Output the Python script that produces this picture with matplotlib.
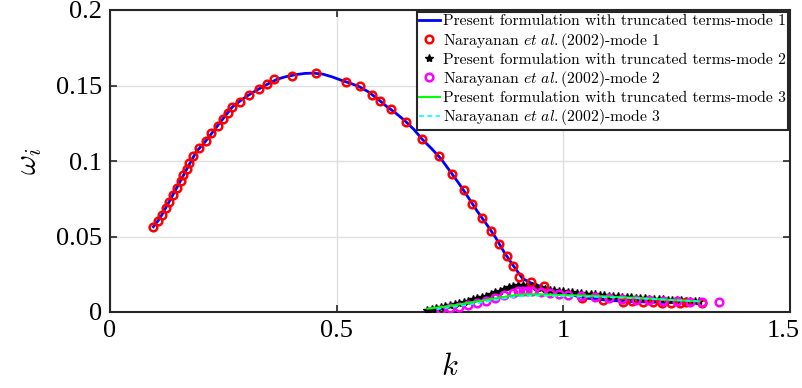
import numpy as np
import matplotlib
matplotlib.use("Agg")
import matplotlib.pyplot as plt
import matplotlib.transforms as mtransforms

plt.rcParams['mathtext.fontset'] = 'cm'
plt.rcParams['axes.formatter.use_mathtext'] = True

# ---- data ----
# mode 1, present formulation (line)
k1_line = [0.0955, 0.11, 0.13, 0.15, 0.17, 0.19, 0.21, 0.23, 0.25, 0.27, 0.29, 0.31, 0.33, 0.35,
           0.37, 0.39, 0.41, 0.43, 0.45, 0.47, 0.49, 0.51, 0.53, 0.55, 0.57, 0.59, 0.61, 0.63,
           0.65, 0.67, 0.69, 0.71, 0.73, 0.75, 0.77, 0.79, 0.81, 0.83, 0.85, 0.87, 0.89, 0.91,
           0.93, 0.95, 0.97, 1.00, 1.05, 1.10, 1.15, 1.20, 1.25, 1.30]
w1_line = [0.0565, 0.0620, 0.0728, 0.0838, 0.0950, 0.1060, 0.1128, 0.1205, 0.1283, 0.1358,
           0.1405, 0.1445, 0.1480, 0.1513, 0.1543, 0.1560, 0.1572, 0.1580, 0.1582, 0.1575,
           0.1557, 0.1535, 0.1515, 0.1492, 0.1458, 0.1412, 0.1362, 0.1318, 0.1268, 0.1210,
           0.1140, 0.1080, 0.1015, 0.0933, 0.0850, 0.0760, 0.0668, 0.0584, 0.0496, 0.0393,
           0.0305, 0.0222, 0.0190, 0.0170, 0.0150, 0.0125, 0.0092, 0.0077, 0.0069, 0.0065,
           0.0062, 0.0060]

# mode 1, Narayanan et al. (circles)
k1_ref = [0.0955, 0.1066, 0.114, 0.1229, 0.1308, 0.1383, 0.1471, 0.1566, 0.1617, 0.1692,
          0.1749, 0.1838, 0.197, 0.2118, 0.2235, 0.2389, 0.2486, 0.2603, 0.2691, 0.2868,
          0.3073, 0.3294, 0.347, 0.3618, 0.4008, 0.4544, 0.520, 0.5515, 0.578, 0.595,
          0.619, 0.653, 0.689, 0.7247, 0.7538, 0.7798, 0.7993, 0.8213, 0.8398, 0.8581,
          0.8751, 0.8897, 0.903, 0.9281, 0.9574, 1.0406, 1.0883, 1.1317, 1.151, 1.176,
          1.198, 1.217, 1.2376, 1.2574, 1.2707, 1.3053]
w1_ref = [0.0565, 0.0603, 0.0642, 0.0687, 0.0730, 0.0775, 0.0823, 0.0870, 0.0907, 0.0945,
          0.0985, 0.1035, 0.1088, 0.1134, 0.1183, 0.1234, 0.1278, 0.1320, 0.1356, 0.1393,
          0.1439, 0.1479, 0.1510, 0.1545, 0.1563, 0.1581, 0.1521, 0.1495, 0.1439, 0.1395,
          0.1344, 0.1258, 0.1144, 0.1036, 0.0916, 0.0811, 0.0715, 0.0624, 0.0538, 0.0450,
          0.0369, 0.0307, 0.0234, 0.0197, 0.0174, 0.0091, 0.0077, 0.0068, 0.0075, 0.0068,
          0.0068, 0.0062, 0.0062, 0.0058, 0.0068, 0.0062]

# mode 2, present formulation (dense markers)
k2_line = [0.70, 0.71, 0.72, 0.73, 0.74, 0.75, 0.76, 0.77, 0.78, 0.79, 0.80, 0.81, 0.82, 0.83,
           0.84, 0.85, 0.86, 0.87, 0.88, 0.89, 0.90, 0.91, 0.92, 0.93, 0.94, 0.95, 0.96, 0.97,
           0.98, 0.99, 1.00, 1.01, 1.02, 1.03, 1.04, 1.05, 1.06, 1.07, 1.08, 1.09, 1.10, 1.11,
           1.12, 1.13, 1.14, 1.15, 1.16, 1.17, 1.18, 1.19, 1.20, 1.21, 1.22, 1.23, 1.24, 1.25,
           1.26, 1.27, 1.28, 1.29, 1.30]
w2_line = [0.0015, 0.0020, 0.0026, 0.0032, 0.0038, 0.0045, 0.0052, 0.0059, 0.0067, 0.0075,
           0.0083, 0.0091, 0.0100, 0.0109, 0.0119, 0.0130, 0.0141, 0.0153, 0.0164, 0.0173,
           0.0178, 0.0179, 0.0176, 0.0171, 0.0165, 0.0159, 0.0154, 0.0149, 0.0145, 0.0141,
           0.0137, 0.0134, 0.0131, 0.0128, 0.0125, 0.0122, 0.0119, 0.0116, 0.0113, 0.0111,
           0.0108, 0.0106, 0.0103, 0.0101, 0.0099, 0.0097, 0.0095, 0.0093, 0.0091, 0.0089,
           0.0087, 0.0085, 0.0084, 0.0082, 0.0080, 0.0079, 0.0077, 0.0076, 0.0074, 0.0073,
           0.0071]

# mode 2, Narayanan et al. (circles)
k2_ref = [0.73, 0.75, 0.77, 0.79, 0.81, 0.83, 0.85, 0.87, 0.89, 0.90, 0.91, 0.92, 0.93, 0.95,
          0.97, 0.99, 1.01, 1.04, 1.07, 1.10, 1.13, 1.16, 1.19, 1.22, 1.25, 1.28, 1.305, 1.344]
w2_ref = [0.0015, 0.0025, 0.0035, 0.0047, 0.0060, 0.0075, 0.0092, 0.0110, 0.0128, 0.0136,
          0.0140, 0.0140, 0.0138, 0.0132, 0.0125, 0.0118, 0.0112, 0.0105, 0.0099, 0.0094,
          0.0088, 0.0082, 0.0078, 0.0074, 0.0071, 0.0068, 0.0064, 0.0066]

# mode 3, present formulation (line)
k3_line = [0.70, 0.73, 0.76, 0.79, 0.82, 0.85, 0.88, 0.90, 0.92, 0.95, 1.00, 1.05, 1.10,
           1.15, 1.20, 1.25, 1.30]
w3_line = [0.0022, 0.0032, 0.0045, 0.0060, 0.0075, 0.0090, 0.0106, 0.0114, 0.0118, 0.0117,
           0.0112, 0.0108, 0.0102, 0.0095, 0.0087, 0.0078, 0.0070]

# mode 3, Narayanan et al. (dashed)
k3_ref = [0.72, 0.75, 0.78, 0.81, 0.84, 0.87, 0.90, 0.92, 0.95, 1.00, 1.05, 1.10, 1.15,
          1.20, 1.25, 1.30]
w3_ref = [0.0018, 0.0030, 0.0043, 0.0058, 0.0073, 0.0090, 0.0103, 0.0108, 0.0108, 0.0105,
          0.0101, 0.0097, 0.0092, 0.0085, 0.0078, 0.0071]

xticks = [0, 0.5, 1, 1.5]
xticklabels = ['0', '0.5', '1', '1.5']
yticks = [0, 0.05, 0.1, 0.15, 0.2]
yticklabels = ['0', '0.05', '0.1', '0.15', '0.2']

labels = [
    'Present formulation with truncated terms-mode 1',
    r'Narayanan $\mathit{et\ al.}$(2002)-mode 1',
    'Present formulation with truncated terms-mode 2',
    r'Narayanan $\mathit{et\ al.}$(2002)-mode 2',
    'Present formulation with truncated terms-mode 3',
    r'Narayanan $\mathit{et\ al.}$(2002)-mode 3',
]

# ---- figure ----
fig = plt.figure(figsize=(8.02, 3.88), dpi=100)
ax = fig.add_axes([110/802, 1-312/388, 680/802, 302/388])

ax.plot(k1_line, w1_line, color='#0000ff', lw=2.0, label=labels[0], zorder=3)
ax.plot(k1_ref, w1_ref, ls='none', marker='o', ms=5.5, mfc='none', mec='#ff0000', mew=1.8,
        label=labels[1], zorder=4)
ax.plot(k2_line, w2_line, ls='none', marker='*', ms=6, color='black', mew=1.0,
        label=labels[2], zorder=3)
ax.plot(k2_ref, w2_ref, ls='none', marker='o', ms=5.5, mfc='none', mec='#ff00ff', mew=1.8,
        label=labels[3], zorder=4)
ax.plot(k3_line, w3_line, color='#00ff00', lw=1.5, label=labels[4], zorder=5)
ax.plot(k3_ref, w3_ref, color='#00ffff', lw=1.2, ls=(0, (3, 2)), label=labels[5], zorder=5)

ax.set_xlim(0, 1.5)
ax.set_ylim(0, 0.2)
ax.set_xticks(xticks)
ax.set_xticklabels(xticklabels, family='Liberation Serif', fontsize=19)
ax.set_yticks(yticks)
ax.set_yticklabels(yticklabels, family='Liberation Serif', fontsize=19)
ax.tick_params(direction='in', length=5, width=1.2, top=True, right=True, colors='#262626',
               labelcolor='black', pad=6)
ax.grid(True, color='#dfdfdf', lw=1.0)
ax.set_axisbelow(True)
for s in ax.spines.values():
    s.set_linewidth(1.5)
    s.set_color('#262626')

# shift the last x tick label left so it stays inside the figure
last = ax.get_xticklabels()[-1]
last.set_transform(last.get_transform() +
                   mtransforms.ScaledTranslation(-7/100, 0, fig.dpi_scale_trans))

ax.set_xlabel(r'$k$', fontsize=22, labelpad=7)
ax.set_ylabel(r'$\omega_i$', fontsize=22, labelpad=8)

leg = ax.legend(loc='upper right', bbox_to_anchor=(1.0 - 2/680, 1.0 - 2/302), borderaxespad=0,
                prop={'family': 'cmr10', 'size': 11.3}, handlelength=1.3, handletextpad=0.2,
                labelspacing=0.14, borderpad=0.15, fancybox=False, framealpha=1,
                edgecolor='#262626')
leg.get_frame().set_linewidth(1.5)

fig.savefig('out.png', dpi=100)
